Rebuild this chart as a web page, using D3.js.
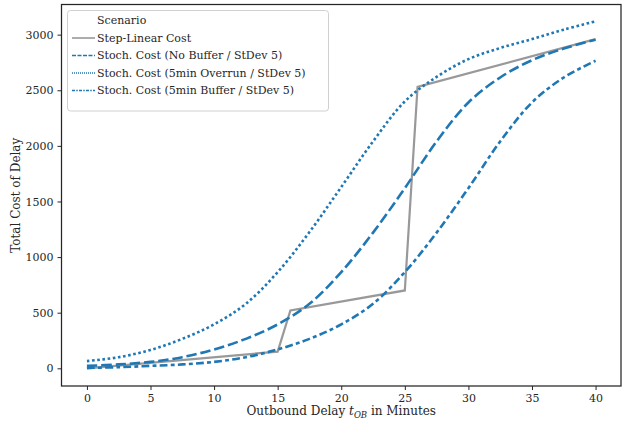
<!DOCTYPE html>
<html>
<head>
<meta charset="utf-8">
<script src="https://cdn.jsdelivr.net/npm/d3@7"></script>
<style>
  body { margin: 0; background: #fff; }
  svg text { font-family: "DejaVu Serif", serif; fill: #262626; }
</style>
</head>
<body>
<div id="chart"></div>
<script>
// step-linear cost, break points
var stepX = [0, 15, 16, 25, 26, 40];
var stepY = [0, 150, 520, 700, 2530, 2960];

// stochastic curves, read every 2.5 minutes
var minutes = [0, 2.5, 5, 7.5, 10, 12.5, 15, 17.5, 20, 22.5, 25, 27.5, 30, 32.5, 35, 37.5, 40];
var noBuffer = [22, 35, 58, 100, 170, 265, 395, 580, 865, 1220, 1620, 2040, 2390, 2615, 2770, 2875, 2955];
var overrun = [65, 100, 165, 265, 395, 580, 865, 1225, 1630, 2040, 2400, 2620, 2780, 2880, 2960, 3045, 3120];
var buffer5 = [4, 10, 22, 35, 58, 100, 170, 265, 395, 580, 865, 1220, 1620, 2040, 2390, 2615, 2765];

var xTicks = [0, 5, 10, 15, 20, 25, 30, 35, 40];
var yTicks = [0, 500, 1000, 1500, 2000, 2500, 3000];

var scenarios = ["Step-Linear Cost", "Stoch. Cost (No Buffer / StDev 5)",
  "Stoch. Cost (5min Overrun / StDev 5)", "Stoch. Cost (5min Buffer / StDev 5)"];

var W = 628, H = 423;
var margin = {top: 4.5, right: 7, bottom: 37, left: 61.5};

var svg = d3.select("#chart").append("svg")
  .attr("width", W).attr("height", H);

var x = d3.scaleLinear().domain([-2, 42]).range([margin.left, W - margin.right]);
var y = d3.scaleLinear().domain([-159, 3271]).range([H - margin.bottom, margin.top]);

var blue = "#1f77b4", grey = "#999999";
var lw = 2.6;

// axes
var xAxis = svg.append("g")
  .attr("transform", "translate(0," + (H - margin.bottom) + ")")
  .call(d3.axisBottom(x).tickValues(xTicks).tickSize(4).tickPadding(4));
var yAxis = svg.append("g")
  .attr("transform", "translate(" + margin.left + ",0)")
  .call(d3.axisLeft(y).tickValues(yTicks).tickFormat(d3.format("d")).tickSize(4).tickPadding(4));
[xAxis, yAxis].forEach(function(a){
  a.select(".domain").remove();
  a.selectAll("line").attr("stroke", "#262626").attr("stroke-width", 1);
  a.selectAll("text").style("font-size", "11px").attr("fill", "#262626");
});

// frame
svg.append("rect")
  .attr("x", margin.left).attr("y", margin.top)
  .attr("width", W - margin.right - margin.left)
  .attr("height", H - margin.bottom - margin.top)
  .attr("fill", "none").attr("stroke", "#262626").attr("stroke-width", 1.25);

var plot = svg.append("g");

var straight = d3.line().x(function(d){ return x(d[0]); }).y(function(d){ return y(d[1]); });
var smooth = d3.line().curve(d3.curveCatmullRom.alpha(0.5))
  .x(function(d){ return x(d[0]); }).y(function(d){ return y(d[1]); });

plot.append("path")
  .datum(d3.zip(stepX, stepY))
  .attr("d", straight)
  .attr("fill", "none").attr("stroke", grey).attr("stroke-width", 2.2);

var dashes = [(4*lw)+","+(1.5*lw), lw+","+lw, (3*lw)+","+(1.25*lw)+","+(1.5*lw)+","+(1.25*lw)];
[noBuffer, overrun, buffer5].forEach(function(s, i){
  plot.append("path")
    .datum(d3.zip(minutes, s))
    .attr("d", smooth)
    .attr("fill", "none").attr("stroke", blue)
    .attr("stroke-width", lw)
    .attr("stroke-dasharray", dashes[i]);
});

// legend
var leg = svg.append("g");
leg.append("rect")
  .attr("x", 67.5).attr("y", 10.5).attr("width", 261).attr("height", 100.5)
  .attr("rx", 3).attr("fill", "#fff").attr("fill-opacity", 0.8)
  .attr("stroke", "#d0d0d0").attr("stroke-width", 1);
leg.append("text").attr("x", 97).attr("y", 20).attr("dy", "0.35em")
  .style("font-size", "11px").text("Scenario");
var legDash = ["none", "4,1.5", "1,1", "3,1.25,1.5,1.25"];
scenarios.forEach(function(name, i){
  var ly = 38 + i * 17.5;
  leg.append("line").attr("x1", 72).attr("x2", 95).attr("y1", ly).attr("y2", ly)
    .attr("stroke", i === 0 ? grey : blue).attr("stroke-width", 1.6)
    .attr("stroke-dasharray", legDash[i]);
  leg.append("text").attr("x", 97).attr("y", ly).attr("dy", "0.35em")
    .style("font-size", "11px").text(name);
});

// axis labels
var xl = svg.append("text")
  .attr("x", (margin.left + W - margin.right) / 2).attr("y", 415)
  .attr("text-anchor", "middle").style("font-size", "12px");
xl.append("tspan").text("Outbound Delay ");
xl.append("tspan").attr("font-style", "italic").text("t");
xl.append("tspan").attr("font-style", "italic").attr("font-size", "8.5px").attr("dy", "3").text("OB");
xl.append("tspan").attr("dy", "-3").text(" in Minutes");

svg.append("text")
  .attr("transform", "translate(20," + ((margin.top + H - margin.bottom) / 2) + ") rotate(-90)")
  .attr("text-anchor", "middle").style("font-size", "12px")
  .text("Total Cost of Delay");
</script>
</body>
</html>
